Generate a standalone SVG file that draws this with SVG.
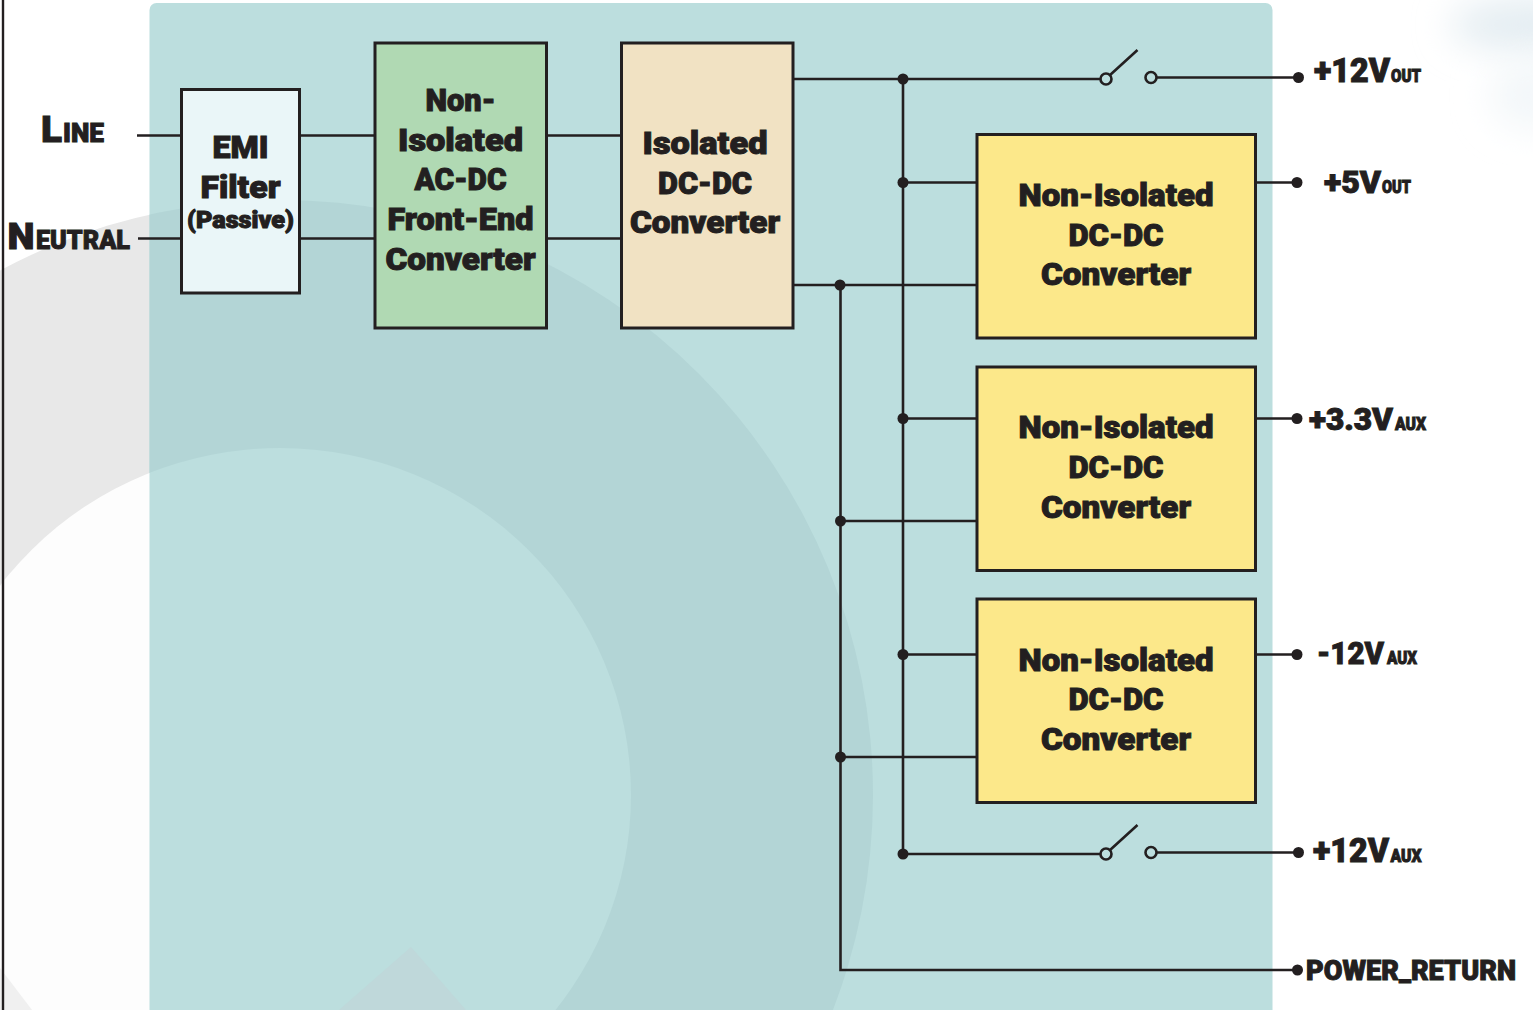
<svg xmlns="http://www.w3.org/2000/svg" width="1533" height="1010" viewBox="0 0 1533 1010">
<style>
.w{fill:none;stroke:#231f20;stroke-width:2.6}
.d{fill:#231f20}
.o{fill:none;stroke:#231f20;stroke-width:2.6}
.b{stroke:#231f20;stroke-width:3}
text{font-family:"Roboto","Liberation Sans",sans-serif;font-weight:900;fill:#231f20;stroke:#231f20;stroke-width:1;text-anchor:middle}
.t{font-size:31px}
.l{text-anchor:start}
</style>
<defs>
<clipPath id="pc"><rect x="149.500" y="3" width="1123" height="1020" rx="7"/></clipPath>
<filter id="bl" x="-50%" y="-50%" width="200%" height="200%"><feGaussianBlur stdDeviation="18"/></filter>
</defs>
<rect id="page" width="1533" height="1010" fill="#fff"/>
<g id="bg">
<ellipse cx="1540" cy="25" rx="90" ry="28" fill="#e4edf2" filter="url(#bl)"/>
<ellipse cx="1535" cy="95" rx="45" ry="35" fill="#f3f7f9" filter="url(#bl)"/>
<ellipse cx="280" cy="795" rx="593" ry="595" fill="#e8e8e8"/>
<ellipse cx="280" cy="795" rx="351" ry="347" fill="#fdfdfd"/>
<polygon points="0,968 32,1010 0,1010" fill="#f0f0f0"/>
<rect x="149.500" y="3" width="1123" height="1020" rx="7" fill="#bcdede"/>
<g clip-path="url(#pc)">
<path fill-rule="evenodd" d="M-313 795a593 595 0 1 0 1186 0a593 595 0 1 0 -1186 0zM-71 795a351 347 0 1 0 702 0a351 347 0 1 0 -702 0z" fill="#b3d5d6"/>
<polygon points="411,947 339,1010 466,1010" fill="#bfd8da"/>
</g>
<rect x="1.800" y="-2" width="2.400" height="1014" fill="#231f20"/>
</g>
<g id="connectors">
<path class="w" d="M137 135.500H621M138 238.500H621"/>
<path class="w" d="M793 79H1100M903 79V854M903 182.500H977M903 418.500H977M903 654.500H977M903 854H1100"/>
<path class="w" d="M793 285H977M840.500 285V970H1298M840.500 521H977M840.500 757H977"/>
<path class="w" d="M1156 77.500H1298M1156 852.500H1298M1255 182.500H1297M1255 418.500H1297M1255 654.500H1297"/>
<path class="w" d="M1109.500 75.500L1137.500 50M1109.500 850.500L1137.500 825"/>
<circle class="o" cx="1106" cy="79" r="5.500"/><circle class="o" cx="1151" cy="77.500" r="5.500"/>
<circle class="o" cx="1106" cy="854" r="5.500"/><circle class="o" cx="1151" cy="852.500" r="5.500"/>
<circle class="d" cx="903" cy="79" r="5.500"/><circle class="d" cx="903" cy="182.500" r="5.500"/><circle class="d" cx="903" cy="418.500" r="5.500"/><circle class="d" cx="903" cy="654.500" r="5.500"/><circle class="d" cx="903" cy="854" r="5.500"/>
<circle class="d" cx="840" cy="285" r="5.500"/><circle class="d" cx="840.500" cy="521" r="5.500"/><circle class="d" cx="840.500" cy="757" r="5.500"/>
<circle class="d" cx="1298.500" cy="77.500" r="5.500"/><circle class="d" cx="1297" cy="182.500" r="5.500"/><circle class="d" cx="1297" cy="418.500" r="5.500"/><circle class="d" cx="1297" cy="654.500" r="5.500"/><circle class="d" cx="1298.500" cy="852.500" r="5.500"/><circle class="d" cx="1297.500" cy="970" r="5.500"/>
</g>
<g id="emi">
<rect class="b" x="181.500" y="89.500" width="118" height="203.500" fill="#eaf6f8"/>
<text class="t" x="240.500" y="158" textLength="56" lengthAdjust="spacingAndGlyphs">EMI</text>
<text class="t" x="240.500" y="198" textLength="80" lengthAdjust="spacingAndGlyphs">Filter</text>
<text x="240.500" y="228" font-size="23" textLength="107" lengthAdjust="spacingAndGlyphs">(Passive)</text>
</g>
<g id="acdc">
<rect class="b" x="375" y="43" width="171.500" height="285" fill="#b0d9b3"/>
<text class="t" x="460.500" y="111" textLength="70" lengthAdjust="spacingAndGlyphs">Non-</text>
<text class="t" x="460.500" y="151" textLength="125" lengthAdjust="spacingAndGlyphs">Isolated</text>
<text class="t" x="460.500" y="190" textLength="92" lengthAdjust="spacingAndGlyphs">AC-DC</text>
<text class="t" x="460.500" y="230" textLength="146" lengthAdjust="spacingAndGlyphs">Front-End</text>
<text class="t" x="460.500" y="270" textLength="150" lengthAdjust="spacingAndGlyphs">Converter</text>
</g>
<g id="iso">
<rect class="b" x="621.500" y="43" width="171.500" height="285" fill="#f1e2c3"/>
<text class="t" x="705" y="154" textLength="125" lengthAdjust="spacingAndGlyphs">Isolated</text>
<text class="t" x="705" y="194" textLength="94" lengthAdjust="spacingAndGlyphs">DC-DC</text>
<text class="t" x="705" y="233" textLength="150" lengthAdjust="spacingAndGlyphs">Converter</text>
</g>
<g id="dc1">
<rect class="b" x="977" y="134.500" width="278.500" height="203.500" fill="#fce88a"/>
<text class="t" x="1116" y="206" textLength="195" lengthAdjust="spacingAndGlyphs">Non-Isolated</text>
<text class="t" x="1116" y="246" textLength="95" lengthAdjust="spacingAndGlyphs">DC-DC</text>
<text class="t" x="1116" y="285" textLength="150" lengthAdjust="spacingAndGlyphs">Converter</text>
</g>
<g id="dc2">
<rect class="b" x="977" y="367" width="278.500" height="203.500" fill="#fce88a"/>
<text class="t" x="1116" y="438" textLength="195" lengthAdjust="spacingAndGlyphs">Non-Isolated</text>
<text class="t" x="1116" y="478" textLength="95" lengthAdjust="spacingAndGlyphs">DC-DC</text>
<text class="t" x="1116" y="518" textLength="150" lengthAdjust="spacingAndGlyphs">Converter</text>
</g>
<g id="dc3">
<rect class="b" x="977" y="599" width="278.500" height="203.500" fill="#fce88a"/>
<text class="t" x="1116" y="671" textLength="195" lengthAdjust="spacingAndGlyphs">Non-Isolated</text>
<text class="t" x="1116" y="710" textLength="95" lengthAdjust="spacingAndGlyphs">DC-DC</text>
<text class="t" x="1116" y="750" textLength="150" lengthAdjust="spacingAndGlyphs">Converter</text>
</g>
<g id="labels">
<text class="l" y="142" font-size="36"><tspan x="41" textLength="21" lengthAdjust="spacingAndGlyphs">L</tspan><tspan x="63" font-size="26" textLength="41" lengthAdjust="spacingAndGlyphs">INE</tspan></text>
<text class="l" y="249" font-size="36"><tspan x="7.500" textLength="27" lengthAdjust="spacingAndGlyphs">N</tspan><tspan x="36" font-size="26" textLength="94" lengthAdjust="spacingAndGlyphs">EUTRAL</tspan></text>
<text class="l" y="82" font-size="34"><tspan x="1314" textLength="76" lengthAdjust="spacingAndGlyphs">+12V</tspan><tspan x="1391" font-size="18" textLength="30" lengthAdjust="spacingAndGlyphs">OUT</tspan></text>
<text class="l" y="192.500" font-size="32"><tspan x="1324" textLength="57" lengthAdjust="spacingAndGlyphs">+5V</tspan><tspan x="1382" font-size="18" textLength="29" lengthAdjust="spacingAndGlyphs">OUT</tspan></text>
<text class="l" y="430" font-size="32"><tspan x="1309" textLength="84" lengthAdjust="spacingAndGlyphs">+3.3V</tspan><tspan x="1395" font-size="18" textLength="31" lengthAdjust="spacingAndGlyphs">AUX</tspan></text>
<text class="l" y="663.500" font-size="32"><tspan x="1317" textLength="67" lengthAdjust="spacingAndGlyphs">-12V</tspan><tspan x="1387" font-size="18" textLength="30" lengthAdjust="spacingAndGlyphs">AUX</tspan></text>
<text class="l" y="862" font-size="34"><tspan x="1313" textLength="76" lengthAdjust="spacingAndGlyphs">+12V</tspan><tspan x="1390.500" font-size="18" textLength="31" lengthAdjust="spacingAndGlyphs">AUX</tspan></text>
<text class="l" x="1306" y="979.500" font-size="27" textLength="210" lengthAdjust="spacingAndGlyphs">POWER_RETURN</text>
</g>
</svg>
